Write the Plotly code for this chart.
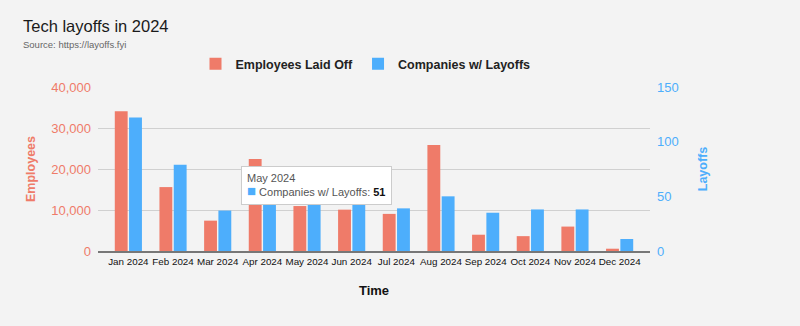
import plotly.graph_objects as go

months = ["Jan 2024", "Feb 2024", "Mar 2024", "Apr 2024", "May 2024", "Jun 2024",
          "Jul 2024", "Aug 2024", "Sep 2024", "Oct 2024", "Nov 2024", "Dec 2024"]
employees = [34107, 15589, 7403, 22423, 10967, 10083, 9051, 25875, 3971, 3625, 5955, 558]
companies = [122, 79, 37, 50, 51, 48, 39, 50, 35, 38, 38, 11]

RED = "#ef7b69"
BLUE = "#4daefc"
BG = "#f3f3f3"
FONT = "Liberation Sans, Arial, sans-serif"

fig = go.Figure()
fig.add_trace(go.Bar(x=months, y=employees, name="Employees Laid Off",
                     marker=dict(color=RED, line=dict(width=0)), offsetgroup=1))
fig.add_trace(go.Bar(x=months, y=companies, name="Companies w/ Layoffs",
                     marker=dict(color=BLUE, line=dict(width=0)), offsetgroup=2, yaxis="y2"))

fig.update_layout(
    width=800, height=326,
    paper_bgcolor=BG, plot_bgcolor=BG,
    font=dict(family=FONT, size=11, color="#222"),
    margin=dict(l=98, r=150, t=87, b=75, autoexpand=False),
    barmode="group", bargap=0.36, bargroupgap=0.1,
    showlegend=True,
    legend=dict(orientation="h", x=(365.5 - 98) / 552, xanchor="center", y=1.14, yanchor="middle",
                font=dict(size=12.5, color="#222", family=FONT, weight="bold"),
                itemwidth=30, bgcolor="rgba(0,0,0,0)"),
    xaxis=dict(showgrid=False, showline=True, linecolor="#777", linewidth=1.5,
               range=[-0.68, 11.68], tickangle=0, automargin=False,
               tickfont=dict(size=9.8, color="#111"), ticks="",
               title=dict(text="<b>Time</b>", font=dict(size=13, color="#111"), standoff=20)),
    yaxis=dict(range=[0, 40000], dtick=10000, tickformat=",", showgrid=True,
               gridcolor="#d0d0d0", gridwidth=1, zeroline=False, automargin=False,
               tickfont=dict(size=13, color=RED), ticks="", ticklabelstandoff=6,
               title=dict(text="<b>Employees</b>", font=dict(size=12.5, color=RED), standoff=12)),
    yaxis2=dict(range=[0, 150], dtick=50, overlaying="y", side="right", showgrid=False,
                zeroline=False, tickfont=dict(size=13, color=BLUE), ticks="", automargin=False,
                ticklabelstandoff=6,
                title=dict(text="<b>Layoffs</b>", font=dict(size=12.5, color=BLUE), standoff=20)),
)

fig.add_annotation(xref="paper", yref="paper", x=(21 - 98) / 552, y=1 + (87 - 25.5) / 164,
                   xanchor="left", yanchor="middle", showarrow=False,
                   text="Tech layoffs in 2024", font=dict(size=16.5, color="#1a1a1a"))
fig.add_annotation(xref="paper", yref="paper", x=(21 - 98) / 552, y=1 + (87 - 44) / 164,
                   xanchor="left", yanchor="middle", showarrow=False,
                   text="Source: https://layoffs.fyi", font=dict(size=9.5, color="#666"))

fig.add_annotation(xref="paper", yref="paper", x=(241 - 98) / 552, y=(251 - 166) / 164,
                   xanchor="left", yanchor="top", showarrow=False, align="left",
                   bgcolor="white", bordercolor="#cccccc", borderwidth=1, borderpad=5,
                   text=("May 2024<br><span style='color:%s;font-size:15px'>■</span> "
                         "Companies w/ Layoffs: <b><span style='color:#111'>51</span></b>") % BLUE,
                   font=dict(size=11, color="#555"))

fig.write_html("out.html")
